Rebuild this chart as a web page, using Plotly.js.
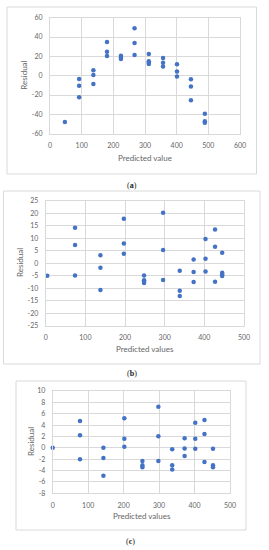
<!DOCTYPE html>
<html>
<head>
<meta charset="utf-8">
<script src="https://cdn.plot.ly/plotly-3.0.1.min.js"></script>
<style>html,body{margin:0;padding:0;background:#fff;}#chart{width:269px;height:550px;}</style>
</head>
<body>
<div id="chart"></div>
<script>
// Panel (a)
const aX = [47, 92, 92, 92, 137, 137, 137, 180, 180, 180, 224, 224, 224, 267, 267, 267, 312, 312, 312, 312, 357, 357, 357, 401, 401, 401, 445, 445, 445, 489, 489, 489];
const aY = [-48, -3.4, -10.5, -22.2, 5.6, 0.8, -8.5, 34.8, 24.8, 20.4, 20.6, 18.8, 17.2, 49, 33.8, 21.4, 22.4, 15, 13.4, 12.2, 18.3, 13.5, 9.4, 11.8, 4.3, -0.9, -3.6, -11.3, -25.3, -39.4, -47.2, -48.6];
// Panel (b)
const bX = [4, 74, 74, 74, 138, 138, 138, 197, 197, 197, 248, 248, 248, 248, 296, 296, 296, 338, 338, 338, 373, 373, 373, 403, 403, 403, 427, 427, 427, 445, 445, 445, 445];
const bY = [-5, 14.2, 7.3, -4.9, 3.2, -1.8, -10.7, 17.8, 7.9, 3.8, -4.9, -6.8, -7.4, -7.9, 20.2, 5.3, -6.7, -3, -11, -13.1, 1.5, -3.5, -7.5, 9.7, 1.8, -3.3, 13.5, 6.6, -7.4, 4.2, -3.8, -4.5, -5.1];
// Panel (c)
const cX = [0, 77, 77, 77, 143, 143, 143, 202, 202, 202, 253, 253, 253, 298, 298, 298, 337, 337, 337, 372, 372, 372, 402, 402, 402, 428, 428, 428, 452, 452, 452];
const cY = [0, 4.7, 2.2, -2.0, 0, -1.8, -4.9, 5.2, 1.6, 0.2, -2.3, -3.05, -3.4, 7.25, 2.05, -2.3, -0.25, -3.05, -3.8, 1.7, -0.1, -1.45, 4.4, 1.6, -0.15, 4.9, 2.45, -2.5, -0.15, -3.05, -3.4];

// Tick values and labels (hyphen-minus as in the reference)
const aXTicks = [0, 100, 200, 300, 400, 500, 600];
const bcXTicks = [0, 100, 200, 300, 400, 500];
const aYTicks = [-60, -40, -20, 0, 20, 40, 60];
const bYTicks = [-25, -20, -15, -10, -5, 0, 5, 10, 15, 20, 25];
const cYTicks = [-8, -6, -4, -2, 0, 2, 4, 6, 8, 10];

const xTitles = ["Predicted value", "Predicted values", "Predicted values"];
const yTitle = "Residual";
const panelLabels = ["(<b>a</b>)", "(<b>b</b>)", "(<b>c</b>)"];

const W = 269, H = 550;
const px = v => v / W;
const py = v => 1 - v / H;
const lbl = arr => arr.map(v => String(v));

const blue = "#4472C4";
const grid = "#d9d9d9";
const tickFont = {family: "Lato, 'Open Sans', sans-serif", size: 7, color: "#666"};
const titleFont = {family: "Lato, 'Open Sans', sans-serif", size: 8, color: "#666"};

function trace(x, y, n) {
  return {x: x, y: y, type: "scatter", mode: "markers", cliponaxis: false,
    xaxis: "x" + (n === 1 ? "" : n), yaxis: "y" + (n === 1 ? "" : n),
    marker: {color: blue, size: 4.5}, hoverinfo: "skip", showlegend: false};
}

function ax(dom, anchor, range, ticks) {
  return {domain: dom, anchor: anchor, range: range,
    tickmode: "array", tickvals: ticks, ticktext: lbl(ticks),
    showgrid: true, gridcolor: grid, gridwidth: 1, zeroline: false,
    showline: true, linecolor: grid, mirror: true, ticks: "",
    tickfont: tickFont, ticklabelstandoff: 5, fixedrange: true};
}

const pa = {x0: 50, x1: 240, y0: 17.7, y1: 133.7};
const pb = {x0: 45.7, x1: 244, y0: 200.7, y1: 325.7};
const pc = {x0: 52.7, x1: 230, y0: 391, y1: 493.3};

const serif = {family: "'Liberation Serif', 'DejaVu Serif', serif", size: 8, color: "#222"};

const layout = {
  width: W, height: H,
  margin: {l: 0, r: 0, t: 0, b: 0},
  paper_bgcolor: "#fff", plot_bgcolor: "#fff",
  xaxis: ax([px(pa.x0), px(pa.x1)], "y", [0, 600], aXTicks),
  yaxis: ax([py(pa.y1), py(pa.y0)], "x", [-60, 60], aYTicks),
  xaxis2: ax([px(pb.x0), px(pb.x1)], "y2", [0, 500], bcXTicks),
  yaxis2: ax([py(pb.y1), py(pb.y0)], "x2", [-25, 25], bYTicks),
  xaxis3: ax([px(pc.x0), px(pc.x1)], "y3", [0, 500], bcXTicks),
  yaxis3: ax([py(pc.y1), py(pc.y0)], "x3", [-8, 10], cYTicks),
  shapes: [
    {type: "rect", xref: "paper", yref: "paper", x0: px(7), x1: px(256.5), y0: py(174), y1: py(7), line: {color: "#d9d9d9", width: 1}},
    {type: "rect", xref: "paper", yref: "paper", x0: px(3.5), x1: px(260), y0: py(364), y1: py(191), line: {color: "#d9d9d9", width: 1}},
    {type: "rect", xref: "paper", yref: "paper", x0: px(16), x1: px(246), y0: py(530), y1: py(381), line: {color: "#d9d9d9", width: 1}}
  ],
  annotations: [
    {text: xTitles[0], xref: "paper", yref: "paper", x: px(145), y: py(158), showarrow: false, font: titleFont, xanchor: "center", yanchor: "middle"},
    {text: xTitles[1], xref: "paper", yref: "paper", x: px(145), y: py(349), showarrow: false, font: titleFont, xanchor: "center", yanchor: "middle"},
    {text: xTitles[2], xref: "paper", yref: "paper", x: px(141.7), y: py(515.5), showarrow: false, font: titleFont, xanchor: "center", yanchor: "middle"},
    {text: yTitle, xref: "paper", yref: "paper", x: px(24), y: py(75.7), showarrow: false, font: titleFont, textangle: -90, xanchor: "center", yanchor: "middle"},
    {text: yTitle, xref: "paper", yref: "paper", x: px(20), y: py(263), showarrow: false, font: titleFont, textangle: -90, xanchor: "center", yanchor: "middle"},
    {text: yTitle, xref: "paper", yref: "paper", x: px(31), y: py(442), showarrow: false, font: titleFont, textangle: -90, xanchor: "center", yanchor: "middle"},
    {text: panelLabels[0], xref: "paper", yref: "paper", x: px(131.7), y: py(185), showarrow: false, font: serif, xanchor: "center", yanchor: "middle"},
    {text: panelLabels[1], xref: "paper", yref: "paper", x: px(132.3), y: py(373.5), showarrow: false, font: serif, xanchor: "center", yanchor: "middle"},
    {text: panelLabels[2], xref: "paper", yref: "paper", x: px(130), y: py(541), showarrow: false, font: serif, xanchor: "center", yanchor: "middle"}
  ]
};

Plotly.newPlot("chart", [trace(aX, aY, 1), trace(bX, bY, 2), trace(cX, cY, 3)], layout, {staticPlot: true, displayModeBar: false});
</script>
</body>
</html>
